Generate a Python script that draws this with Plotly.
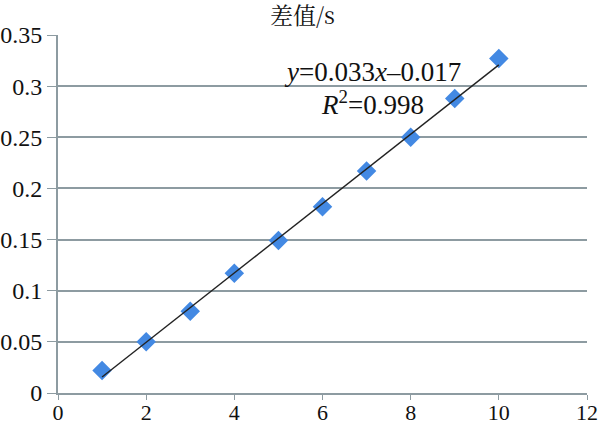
import plotly.graph_objects as go
import numpy as np

# data
x_vals = [1, 2, 3, 4, 5, 6, 7, 8, 9, 10]
diff_s = [0.022, 0.050, 0.080, 0.117, 0.149, 0.182, 0.217, 0.250, 0.288, 0.327]
y_ticks = [0, 0.05, 0.1, 0.15, 0.2, 0.25, 0.3, 0.35]
y_tick_text = ["0", "0.05", "0.1", "0.15", "0.2", "0.25", "0.3", "0.35"]
x_ticks = [0, 2, 4, 6, 8, 10, 12]

# linear trendline
slope, intercept = np.polyfit(x_vals, diff_s, 1)
fit_x = [x_vals[0], x_vals[-1]]
fit_y = [slope * v + intercept for v in fit_x]

font = "Liberation Serif"
grid = "#8d9ba1"

# plot area in page pixels
L, R, T, B = 58, 587, 35, 393


def paper_x(px):
    return (px - L) / (R - L)


def paper_y(py):
    return (B - py) / (B - T)


fig = go.Figure()
fig.add_trace(go.Scatter(
    x=x_vals, y=diff_s, mode="markers",
    marker=dict(symbol="diamond", size=15, color="#4389e3"),
    showlegend=False
))
fig.add_trace(go.Scatter(
    x=fit_x, y=fit_y, mode="lines",
    line=dict(color="#222222", width=1.4),
    showlegend=False
))

fig.update_layout(
    template="none",
    width=600, height=425,
    margin=dict(l=L, r=600 - R, t=T, b=425 - B),
    paper_bgcolor="white", plot_bgcolor="white",
    font=dict(family=font, size=24, color="#111"),
    xaxis=dict(
        range=[0, 12], tickvals=x_ticks, showgrid=False, automargin=False,
        tickfont=dict(family=font, size=22, color="#111"),
        showline=True, linecolor=grid, linewidth=2,
        ticks="outside", ticklen=5, tickcolor=grid, zeroline=False,
        ticklabelstandoff=-6,
    ),
    yaxis=dict(
        range=[0, 0.35], tickvals=y_ticks, ticktext=y_tick_text, automargin=False,
        tickfont=dict(family=font, size=24, color="#111"),
        showgrid=True, gridcolor=grid, gridwidth=2,
        showline=True, linecolor=grid, linewidth=2,
        ticks="outside", ticklen=9, tickcolor=grid, zeroline=False,
    ),
    annotations=[
        dict(text="差值/s", x=paper_x(302), y=paper_y(15),
             xref="paper", yref="paper", xanchor="center", yanchor="middle", showarrow=False,
             font=dict(family="Noto Serif CJK SC", size=23, color="#111")),
        dict(text="<i>y</i>=0.033<i>x</i>\u20130.017", x=paper_x(372), y=paper_y(72),
             xref="paper", yref="paper", xanchor="center", yanchor="middle", showarrow=False,
             font=dict(family=font, size=27, color="#111")),
        dict(text="<i>R</i><sup>2</sup>=0.998", x=paper_x(372), y=paper_y(103),
             xref="paper", yref="paper", xanchor="center", yanchor="middle", showarrow=False,
             font=dict(family=font, size=27, color="#111")),
    ],
)

# drop the browser's default body margin so the figure sits at the page corner
fig.write_html("out.html", config={"displayModeBar": False},
               post_script="document.body.style.margin='0';")
